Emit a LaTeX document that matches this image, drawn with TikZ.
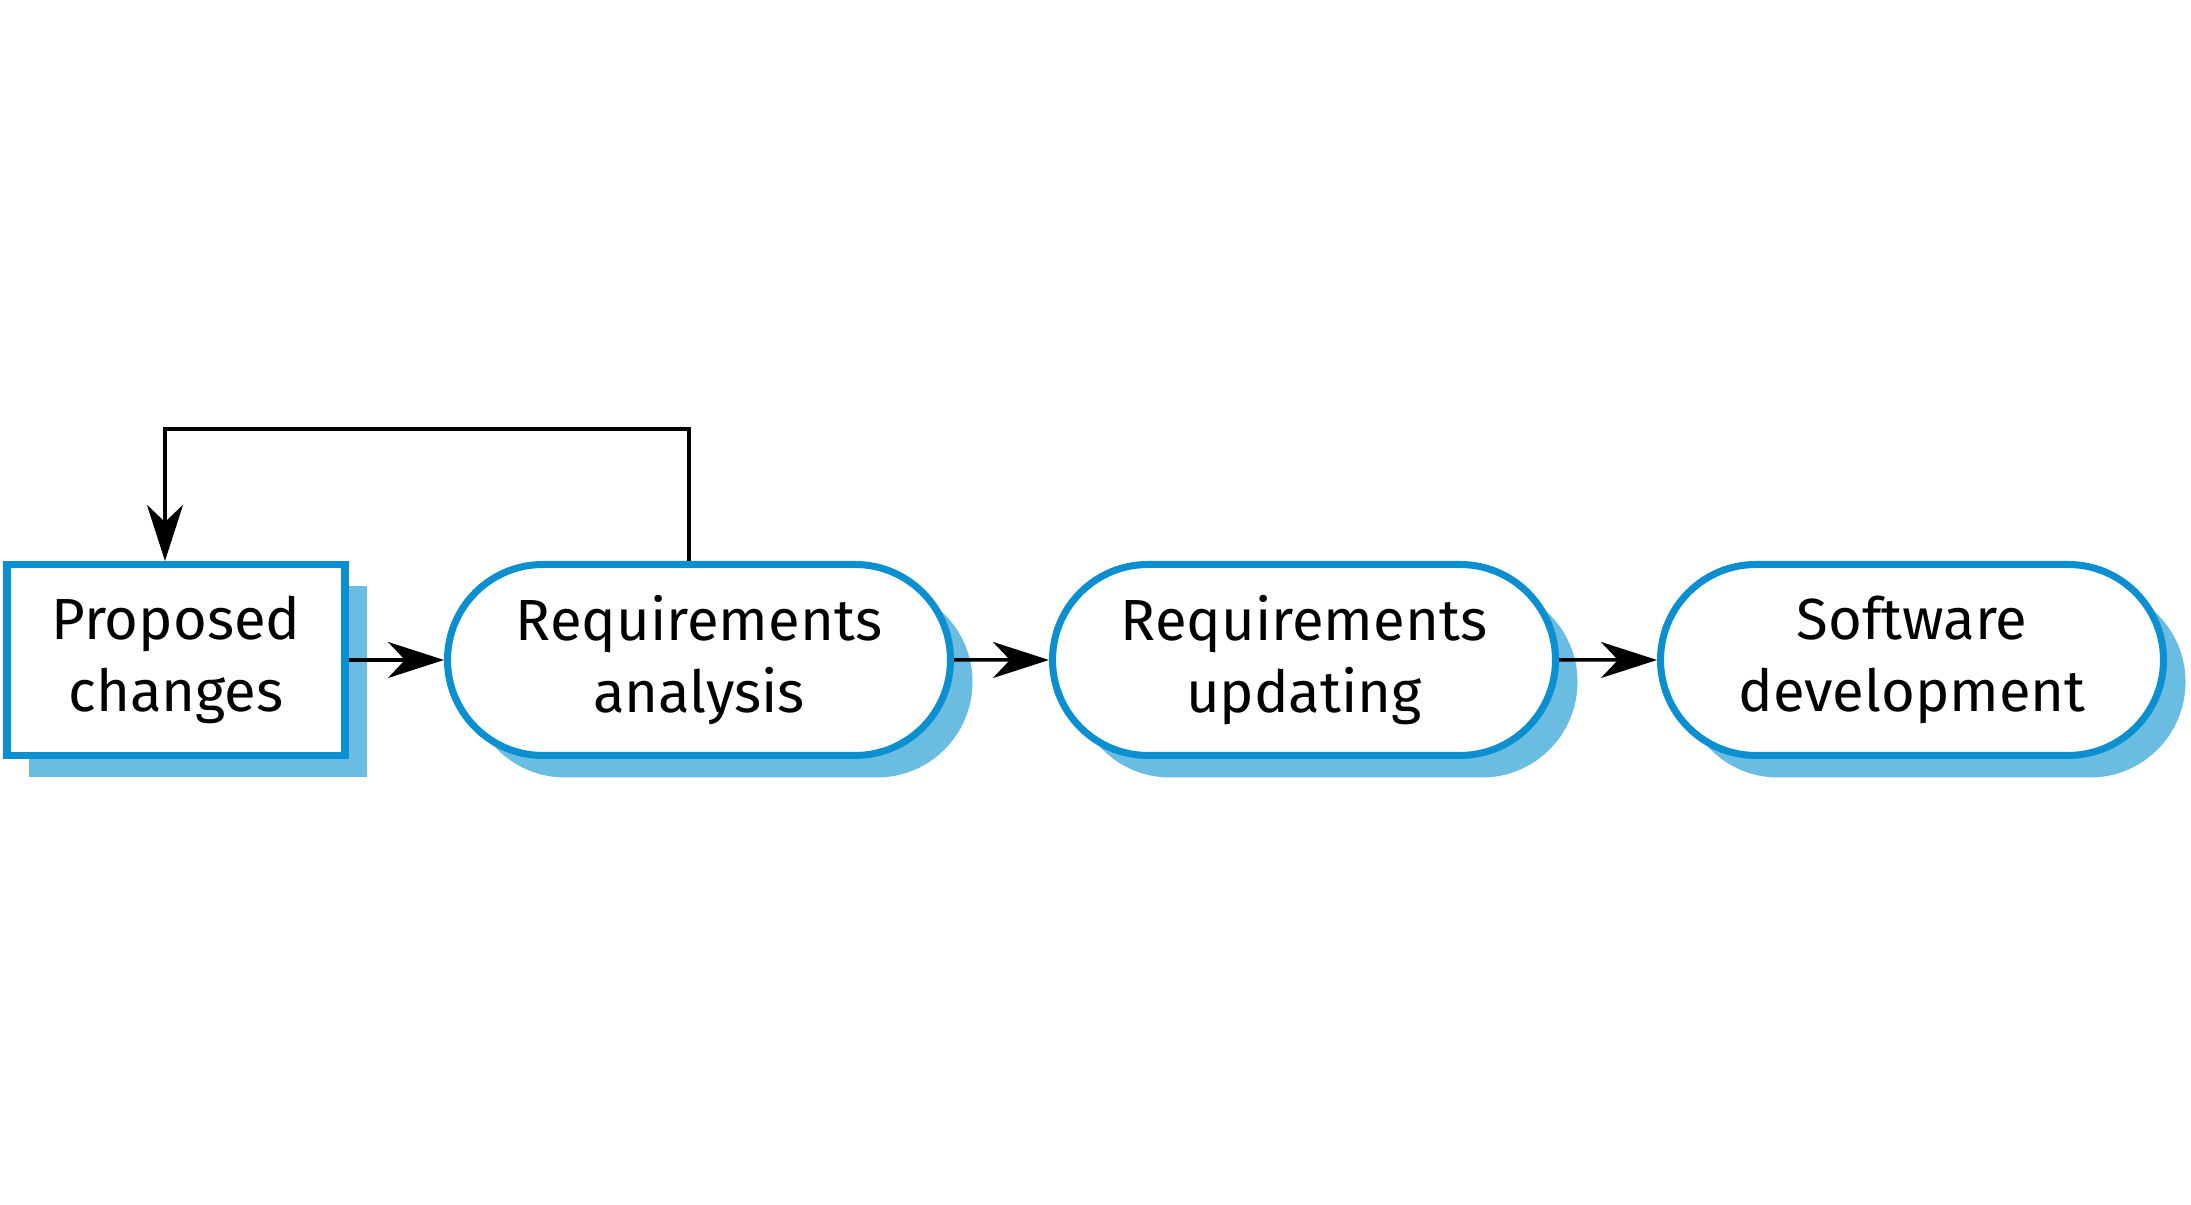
\documentclass[tikz,border=0pt]{standalone}
\usepackage{fontspec}
\setmainfont{Fira Sans}
\usetikzlibrary{shapes.misc,shadows,arrows.meta}
\definecolor{edgeblue}{HTML}{0A8FD0}
\definecolor{shadeblue}{HTML}{6ABDE0}
\tikzset{
    stage/.style={draw=edgeblue, line width=2pt, fill=white, align=center,
        minimum height=1.91cm, inner sep=0pt, font=\fontsize{16.5}{20.5}\selectfont,
        drop shadow={shadow xshift=0.22cm, shadow yshift=-0.22cm, fill=shadeblue, opacity=1}},
    stagebox/.style={stage, rectangle, minimum width=3.38cm},
    stageround/.style={stage, rounded rectangle, minimum width=5.03cm},
    flow/.style={-{Stealth[length=0.56cm, width=0.36cm, inset=0.17cm]}, line width=1pt}
}
\begin{document}
\begin{tikzpicture}
            \useasboundingbox (0,0) rectangle (21.91,12.05);
            % Nodes
            \node[stagebox] (Proposed) at (1.76, 5.45) {Proposed\\changes};
            \node[stageround] (Analysis) at (6.99, 5.45) {Requirements\\analysis};
            \node[stageround] (Updating) at (13.04, 5.45) {Requirements\\updating};
            \node[stageround] (Development) at (19.12, 5.45) {Software\\development};

            % Arrows
            \draw[flow] (Proposed) -- (Analysis);
            \draw[flow] (Analysis) -- (Updating);
            \draw[flow] (Updating) -- (Development);
            \draw[flow] ([xshift=-1mm]Analysis.north) -- ++(0,1.32) -| ([xshift=-1.1mm]Proposed.north);
        \end{tikzpicture}
\end{document}
